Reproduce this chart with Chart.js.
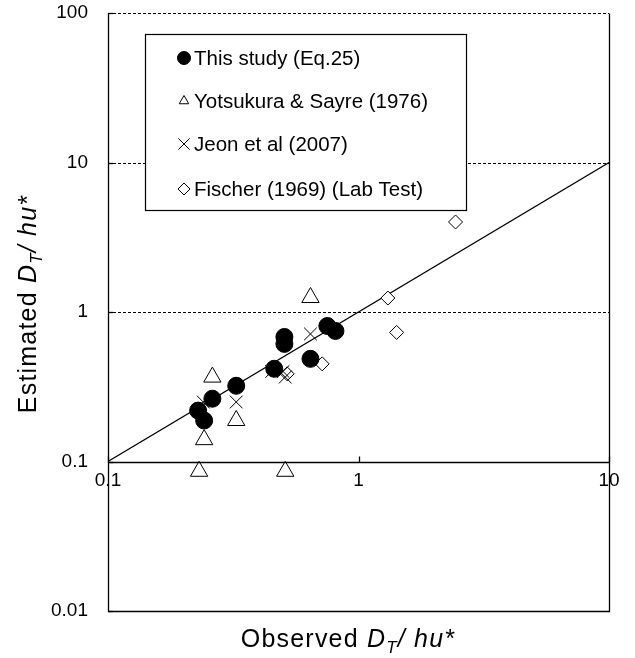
<!DOCTYPE html>
<html>
<head>
<meta charset="utf-8">
<script src="https://cdn.jsdelivr.net/npm/chart.js@4"></script>
<style>
  body { margin: 0; background: #fff; }
  #wrap { width: 635px; height: 658px; }
</style>
</head>
<body>
<div id="wrap"><canvas id="dtChart"></canvas></div>
<script>
// observed / estimated D_T/hu* values
const thisStudyX = [0.229, 0.242, 0.261, 0.325, 0.461, 0.506, 0.506, 0.643, 0.751, 0.809]
const thisStudyY = [0.219, 0.188, 0.263, 0.321, 0.417, 0.681, 0.612, 0.486, 0.806, 0.747]

const yotsukuraX = [0.643, 0.261, 0.325, 0.242, 0.231, 0.51]
const yotsukuraY = [1.25, 0.367, 0.188, 0.14, 0.086, 0.086]

const jeonX = [0.325, 0.24, 0.643, 0.51, 0.5, 0.45]
const jeonY = [0.25, 0.25, 0.713, 0.367, 0.4, 0.4]

const fischerX = [0.716, 0.519, 1.31, 1.42, 2.44]
const fischerY = [0.45, 0.386, 1.24, 0.73, 4.0]

const lineX = [0.1, 10]
const lineY = [0.1, 10]

const xTicks = [0.1, 1, 10]
const yTicks = [0.01, 0.1, 1, 10, 100]
const gridY = [1, 10, 100]

const pts = (xs, ys) => xs.map((x, i) => ({ x: x, y: ys[i] }))
const FONT = '"Liberation Sans", Arial, sans-serif'

// frame, dashed grid lines, x axis at y = 0.1, titles and legend
const framePlugin = {
  id: 'frame',
  beforeDatasetsDraw(chart) {
    const { ctx, chartArea: a, scales: { x, y } } = chart
    ctx.save()
    ctx.strokeStyle = '#000'
    ctx.lineWidth = 1
    ctx.setLineDash([3, 2])
    gridY.forEach(v => {
      const py = Math.round(y.getPixelForValue(v)) + 0.5
      ctx.beginPath(); ctx.moveTo(a.left, py); ctx.lineTo(a.right, py); ctx.stroke()
    })
    ctx.setLineDash([])
    ctx.lineWidth = 1.3
    const y01 = Math.round(y.getPixelForValue(0.1)) + 0.5
    ctx.beginPath(); ctx.moveTo(a.left, y01); ctx.lineTo(a.right, y01); ctx.stroke()
    // left, bottom and right edges (top edge is the dashed 100 line)
    const l = Math.round(a.left) + 0.5, r = Math.round(a.right) + 0.5
    const t = Math.round(a.top) + 0.5, b = Math.round(a.bottom) + 0.5
    ctx.beginPath()
    ctx.moveTo(l, t); ctx.lineTo(l, b); ctx.lineTo(r, b); ctx.lineTo(r, t)
    ctx.stroke()
    yTicks.forEach(v => {
      const py = Math.round(y.getPixelForValue(v)) + 0.5
      ctx.beginPath(); ctx.moveTo(a.left, py); ctx.lineTo(a.left + 5, py); ctx.stroke()
    })
    xTicks.forEach(v => {
      const px = Math.round(x.getPixelForValue(v)) + 0.5
      ctx.beginPath(); ctx.moveTo(px, y01); ctx.lineTo(px, y01 - 6); ctx.stroke()
    })
    ctx.restore()
  },
  afterDraw(chart) {
    const { ctx } = chart
    ctx.save()
    ctx.fillStyle = '#000'
    ctx.textBaseline = 'alphabetic'
    ctx.letterSpacing = '1.2px'

    // draws "<prefix> D_T / hu*" centred at 0,0
    function axisTitle(prefix) {
      const big = '25px ' + FONT, it = 'italic 25px ' + FONT, sub = 'italic 17px ' + FONT
      ctx.font = big; const w1 = ctx.measureText(prefix).width
      ctx.font = it; const w2 = ctx.measureText('D').width
      ctx.font = sub; const w3 = ctx.measureText('T').width
      ctx.font = it; const w4 = ctx.measureText('/ hu*').width
      let cx = -(w1 + w2 + w3 + w4) / 2
      ctx.textAlign = 'left'
      ctx.font = big; ctx.fillText(prefix, cx, 9); cx += w1
      ctx.font = it; ctx.fillText('D', cx, 9); cx += w2
      ctx.font = sub; ctx.fillText('T', cx, 15); cx += w3
      ctx.font = it; ctx.fillText('/ hu*', cx, 9)
    }
    ctx.save()
    ctx.translate(348, 638)
    axisTitle('Observed ')
    ctx.restore()
    ctx.save()
    ctx.translate(27, 304)
    ctx.rotate(-Math.PI / 2)
    axisTitle('Estimated ')
    ctx.restore()
    ctx.letterSpacing = '0px'

    // legend box
    const bx = 145, by = 34, bw = 321, bh = 176
    ctx.fillStyle = '#fff'
    ctx.fillRect(bx, by, bw, bh)
    ctx.strokeStyle = '#000'
    ctx.lineWidth = 1.2
    ctx.strokeRect(bx + 0.5, by + 0.5, bw, bh)
    ctx.font = '20.5px ' + FONT
    ctx.textAlign = 'left'
    ctx.textBaseline = 'middle'
    const rowY = [58, 101, 144, 189]
    chart.data.datasets.slice(0, 4).forEach((ds, i) => {
      ctx.fillStyle = ds.backgroundColor
      ctx.strokeStyle = '#000'
      ctx.lineWidth = 1
      Chart.helpers.drawPoint(ctx, {
        pointStyle: ds.pointStyle,
        radius: ds.legendRadius,
        borderWidth: 1
      }, 184, rowY[i])
      ctx.fillStyle = '#000'
      ctx.fillText(ds.label, 194, rowY[i] + 1)
    })
    ctx.restore()
  }
}

new Chart(
  document.getElementById('dtChart'),
  {
    type: 'scatter',
    data: {
      datasets: [
        {
          label: 'This study (Eq.25)',
          data: pts(thisStudyX, thisStudyY),
          pointStyle: 'circle',
          pointRadius: 8.5,
          legendRadius: 6.5,
          backgroundColor: '#000',
          borderColor: '#000',
          borderWidth: 1,
          order: 1
        },
        {
          label: 'Yotsukura & Sayre (1976)',
          data: pts(yotsukuraX, yotsukuraY),
          pointStyle: 'triangle',
          pointRadius: 10,
          legendRadius: 5.5,
          backgroundColor: 'rgba(255,255,255,0)',
          borderColor: '#000',
          borderWidth: 1,
          order: 2
        },
        {
          label: 'Jeon et al (2007)',
          data: pts(jeonX, jeonY),
          pointStyle: 'crossRot',
          pointRadius: 9,
          legendRadius: 8,
          backgroundColor: '#000',
          borderColor: '#000',
          borderWidth: 1,
          order: 3
        },
        {
          label: 'Fischer (1969) (Lab Test)',
          data: pts(fischerX, fischerY),
          pointStyle: 'rectRot',
          pointRadius: 7,
          legendRadius: 6,
          backgroundColor: '#fff',
          borderColor: '#000',
          borderWidth: 1,
          order: 4
        },
        {
          label: '1:1',
          data: pts(lineX, lineY),
          showLine: true,
          pointRadius: 0,
          borderColor: '#000',
          borderWidth: 1.2,
          order: 5
        }
      ]
    },
    options: {
      responsive: true,
      maintainAspectRatio: false,
      animation: false,
      layout: { padding: { top: 13, right: 26, bottom: 47, left: 0 } },
      plugins: {
        legend: { display: false },
        tooltip: { enabled: false }
      },
      scales: {
        x: {
          type: 'logarithmic',
          min: 0.1,
          max: 10,
          position: { y: 0.1 },
          afterBuildTicks: s => { s.ticks = xTicks.map(v => ({ value: v })) },
          grid: { display: false },
          border: { display: false },
          ticks: {
            color: '#000',
            padding: 0,
            maxRotation: 0,
            font: { family: FONT, size: 19 },
            callback: v => String(v)
          }
        },
        y: {
          type: 'logarithmic',
          min: 0.01,
          max: 100,
          afterFit: s => { s.width = 108; s.paddingTop = 0; s.paddingBottom = 0 },
          afterBuildTicks: s => { s.ticks = yTicks.map(v => ({ value: v })) },
          grid: { display: false },
          border: { display: false },
          ticks: {
            color: '#000',
            padding: 12,
            font: { family: FONT, size: 19 },
            callback: v => String(v)
          }
        }
      }
    },
    plugins: [framePlugin]
  }
)
</script>
</body>
</html>
